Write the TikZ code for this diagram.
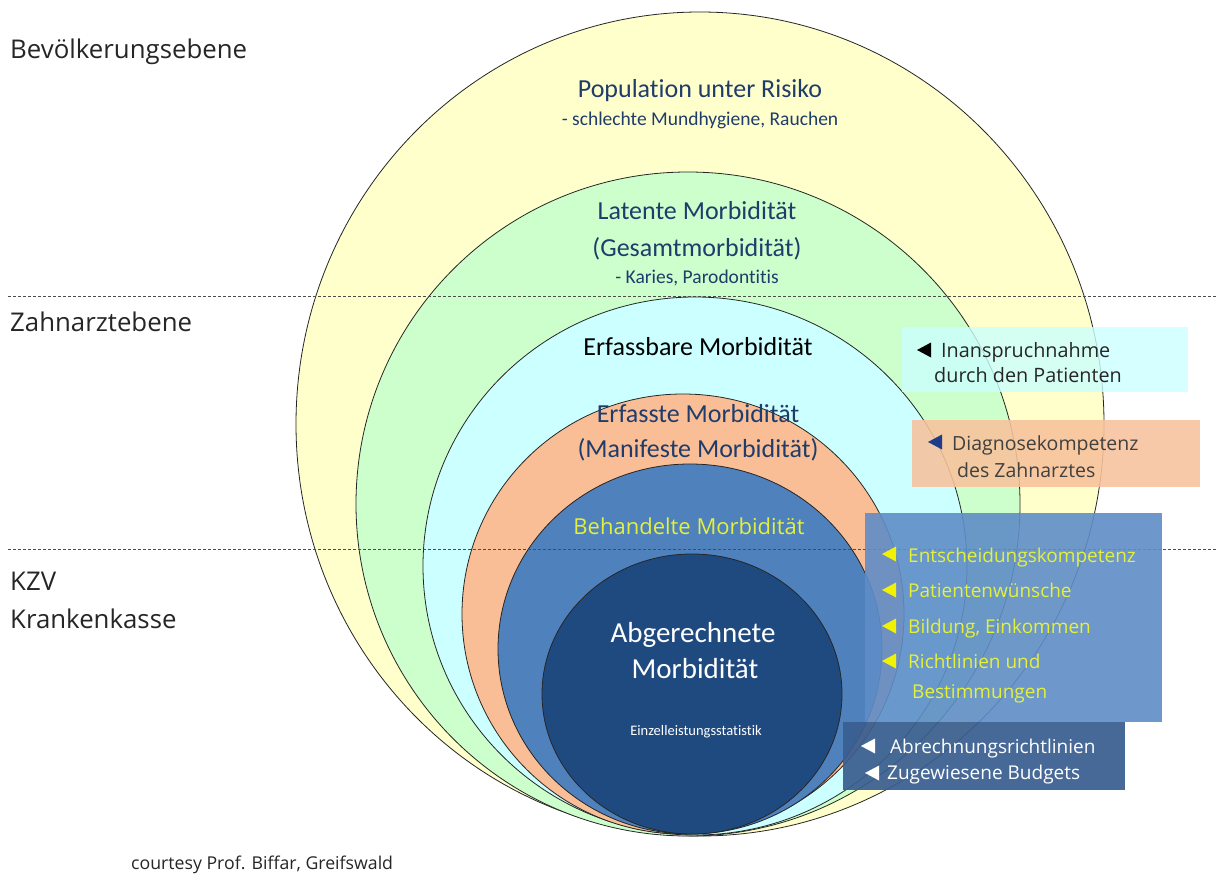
\documentclass[tikz,border=0pt]{standalone}
\usepackage{fontspec}
\setmainfont{Carlito}[Ligatures={NoCommon}]
\newfontfamily\osf{Open Sans}
\definecolor{cYel}{HTML}{FFFFCC}
\definecolor{cGrn}{HTML}{CCFFCC}
\definecolor{cCya}{HTML}{CCFFFF}
\definecolor{cOra}{HTML}{F9BE95}
\definecolor{cBlu}{HTML}{4F81BD}
\definecolor{cNav}{HTML}{1F4A80}
\definecolor{tDark}{HTML}{1F3C6B}
\definecolor{tYel}{HTML}{E4F03A}
\definecolor{bBlu}{HTML}{5F8DC7}
\definecolor{bDrk}{HTML}{3A5E90}
\definecolor{bOra}{HTML}{F8C29C}
\definecolor{triBlue}{HTML}{1F3C8B}
\definecolor{triYel}{HTML}{F2F200}
\newcommand\ltri[3]{\fill[#3] (#1,#2) -- ++(14,-7.5) -- ++(0,15) -- cycle;}
\begin{document}
\begin{tikzpicture}[x=1pt,y=-1pt,
  ring/.style={draw=black!85, line width=0.8pt},
  levelline/.style={draw=black!70, line width=0.8pt, dash pattern=on 3pt off 2pt},
  ttl/.style={anchor=base, inner sep=0pt, text=tDark, font=\fontsize{26}{30}\selectfont},
  sub/.style={anchor=base, inner sep=0pt, text=tDark, font=\fontsize{19.5}{23}\selectfont},
  lvl/.style={anchor=base west, inner sep=0pt, font=\osf\fontsize{25.8}{30}\selectfont, text=black!85},
  btxt/.style={anchor=base west, inner sep=0pt, font=\osf\fontsize{19}{23}\selectfont},
  infobox/.style={draw=none}]
\useasboundingbox (0,0) rectangle (1224,875);
\fill[white] (0,0) rectangle (1224,875);
% nested ellipses
\path[ring, fill=cYel] (700,424) ellipse [x radius=404pt, y radius=412pt];
\path[ring, fill=cGrn] (688,504) ellipse [x radius=332pt, y radius=332pt];
\path[ring, fill=cCya] (695,566) ellipse [x radius=272pt, y radius=269pt];
\path[ring, fill=cOra] (683,614) ellipse [x radius=221pt, y radius=220pt];
\path[ring, fill=cBlu] (690,649) ellipse [x radius=192pt, y radius=185pt];
\path[ring, fill=cNav] (692,694) ellipse [x radius=150pt, y radius=140pt];
% level lines
\coordinate (l1a) at (8,296); \coordinate (l1b) at (1216,296);
\coordinate (l2a) at (8,549); \coordinate (l2b) at (1216,549);
\draw[levelline] (l1a) -- (l1b);
\draw[levelline] (l2a) -- (l2b);
% boxes
\fill[cCya, opacity=0.8] (902,327) rectangle (1188,392);
\fill[bOra, opacity=0.88] (912,420) rectangle (1200,487);
\fill[bBlu, opacity=0.9] (865,513) rectangle (1162,722);
\fill[bDrk, opacity=0.93] (843,722) rectangle (1125,790);
% level labels
\node[lvl] (bev) at (10,59) {Bevölkerungsebene};
\node[lvl] (zahn) at (10,331) {Zahnarztebene};
\node[lvl] (kzv) at (10,590) {KZV};
\node[lvl] (kk) at (10,628) {Krankenkasse};
\node[anchor=base west, inner sep=0pt, font=\osf\fontsize{17.7}{21}\selectfont, text=black!85] (court) at (131,869) {courtesy Prof. Biffar, Greifswald};
% circle texts
\node[ttl] (pop) at (700,97) {Population unter Risiko};
\node[sub] (popsub) at (700,125) {- schlechte Mundhygiene, Rauchen};
\node[ttl] (lat) at (697,219) {Latente Morbidität};
\node[ttl] (ges) at (697,256) {(Gesamtmorbidität)};
\node[sub] (kar) at (697,283) {- Karies, Parodontitis};
\node[ttl, text=black] (erfb) at (698,355) {Erfassbare Morbidität};
\node[ttl] (erf) at (698,422) {Erfasste Morbidität};
\node[ttl] (man) at (698,457) {(Manifeste Morbidität)};
\node[anchor=base, inner sep=0pt, text=tYel, font=\osf\fontsize{22}{26}\selectfont] (beh) at (689,534) {Behandelte Morbidität};
\node[anchor=base, inner sep=0pt, text=white, font=\fontsize{29}{34}\selectfont] (abg) at (693,642) {Abgerechnete};
\node[anchor=base, inner sep=0pt, text=white, font=\fontsize{29}{34}\selectfont] (abm) at (695,678) {Morbidität};
\node[anchor=base, inner sep=0pt, text=white, font=\fontsize{14.5}{17}\selectfont] (einz) at (696,735) {Einzelleistungsstatistik};
% box texts
\ltri{917}{350}{black}
\node[btxt, text=black!85, font=\osf\fontsize{19.8}{23}\selectfont] (ina) at (941,357) {Inanspruchnahme};
\node[btxt, text=black!85, font=\osf\fontsize{19.8}{23}\selectfont] (dur) at (934,382) {durch den Patienten};
\ltri{928}{442}{triBlue}
\node[btxt, text=black!75, font=\osf\fontsize{19.5}{23}\selectfont] (dia) at (952,450) {Diagnosekompetenz};
\node[btxt, text=black!75, font=\osf\fontsize{19.5}{23}\selectfont] (des) at (957,477) {des Zahnarztes};
\ltri{882}{554}{triYel}
\node[btxt, text=tYel] (ent) at (908,562) {Entscheidungskompetenz};
\ltri{882}{590}{triYel}
\node[btxt, text=tYel] (pat) at (908,597) {Patientenwünsche};
\ltri{882}{626}{triYel}
\node[btxt, text=tYel] (bil) at (908,633) {Bildung, Einkommen};
\ltri{882}{661}{triYel}
\node[btxt, text=tYel] (ric) at (908,668) {Richtlinien und};
\node[btxt, text=tYel] (bes) at (912,698) {Bestimmungen};
\ltri{861}{746}{white}
\node[btxt, text=white] (abr) at (890,753) {Abrechnungsrichtlinien};
\ltri{865}{773}{white}
\node[btxt, text=white] (zug) at (887,779) {Zugewiesene Budgets};
\end{tikzpicture}
\end{document}
